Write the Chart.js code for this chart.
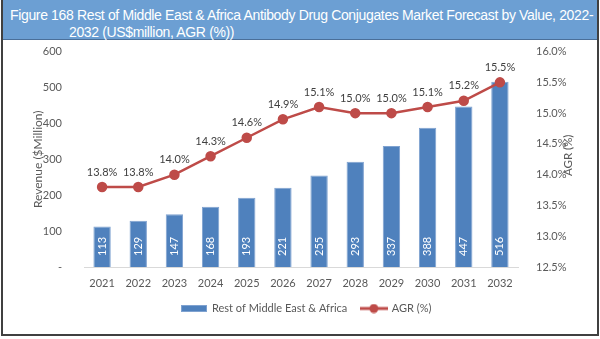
<!DOCTYPE html>
<html lang="en">
<head>
  <meta charset="UTF-8">
  <title>Antibody Drug Conjugates Market Forecast</title>
  <style>
    body {
      margin: 0;
      width: 600px;
      height: 339px;
      overflow: hidden;
      background: #fff;
      font-family: Lato, sans-serif;
    }
    #frame {
      position: absolute;
      left: 1px;
      top: 0;
      width: 594px;
      height: 334px;
      border: 2px solid #404040;
      border-top: none;
    }
    #header {
      position: absolute;
      left: 0;
      top: 0;
      width: 594px;
      height: 39px;
      background: #6c9fd3;
      border-bottom: 1px solid #4a6f99;
      color: #fff;
      font-family: "Liberation Sans", Arial, sans-serif;
      font-size: 14px;
      line-height: 17px;
      letter-spacing: -0.35px;
    }
    #header .l1 { position: absolute; left: 7px; top: 7px; white-space: nowrap; }
    #header .l2 { position: absolute; left: 66px; top: 24px; white-space: nowrap; }
    #chart-box {
      position: absolute;
      left: 0;
      top: 31px;
      width: 600px;
      height: 298px;
    }
  </style>
</head>
<body>
  <div id="frame">
    <div id="header">
      <span class="l1">Figure 168 Rest of Middle East &amp; Africa Antibody Drug Conjugates Market Forecast by Value, 2022-</span>
      <span class="l2">2032 (US$million, AGR (%))</span>
    </div>
  </div>
  <div id="chart-box"><canvas id="chart"></canvas></div>

  <script src="https://cdn.jsdelivr.net/npm/chart.js"></script>
  <script>
    const years = ['2021', '2022', '2023', '2024', '2025', '2026', '2027', '2028', '2029', '2030', '2031', '2032'];
    const revenue = [113, 129, 147, 168, 193, 221, 255, 293, 337, 388, 447, 516];
    const agr = [13.8, 13.8, 14.0, 14.3, 14.6, 14.9, 15.1, 15.0, 15.0, 15.1, 15.2, 15.5];

    const BAR_BLUE = '#4f81bd';
    const LINE_RED = '#be4b48';
    const TEXT_GREY = '#595959';
    const FONT = { family: 'Lato', size: 11 };

    // small legend icons: flat bar swatch and line-with-marker
    function barIcon() {
      const c = document.createElement('canvas');
      c.width = 26; c.height = 7;
      const g = c.getContext('2d');
      g.fillStyle = BAR_BLUE;
      g.fillRect(0, 0, 26, 7);
      g.strokeStyle = '#7fa2d0';
      g.strokeRect(0.5, 0.5, 25, 6);
      return c;
    }
    function lineIcon() {
      const c = document.createElement('canvas');
      c.width = 28; c.height = 10;
      const g = c.getContext('2d');
      g.strokeStyle = LINE_RED;
      g.lineWidth = 3;
      g.beginPath(); g.moveTo(0, 5); g.lineTo(28, 5); g.stroke();
      g.fillStyle = LINE_RED;
      g.beginPath(); g.arc(14, 5, 4.5, 0, Math.PI * 2); g.fill();
      return c;
    }
    const legendIcons = [barIcon(), lineIcon()];

    // value labels in/above the marks, plus the right axis title read bottom-up
    const valueLabels = {
      id: 'valueLabels',
      afterDatasetsDraw(chart) {
        const ctx = chart.ctx;
        ctx.save();
        ctx.font = '11px Lato, sans-serif';
        chart.getDatasetMeta(0).data.forEach((bar, i) => {
          ctx.save();
          ctx.translate(bar.x, bar.base - 11);
          ctx.rotate(-Math.PI / 2);
          ctx.fillStyle = '#ffffff';
          ctx.textAlign = 'left';
          ctx.textBaseline = 'middle';
          ctx.fillText(String(revenue[i]), 0, 0);
          ctx.restore();
        });
        ctx.fillStyle = '#404040';
        ctx.textAlign = 'center';
        ctx.textBaseline = 'middle';
        chart.getDatasetMeta(1).data.forEach((pt, i) => {
          ctx.fillText(agr[i].toFixed(1) + '%', pt.x, pt.y - 15);
        });

        const area = chart.chartArea;
        ctx.save();
        ctx.translate(568.5, (area.top + area.bottom) / 2 - 4);
        ctx.rotate(-Math.PI / 2);
        ctx.fillStyle = TEXT_GREY;
        ctx.font = '11.5px Lato, sans-serif';
        ctx.fillText('AGR (%)', 0, 0);
        ctx.restore();
        ctx.restore();
      }
    };

    new Chart(document.getElementById('chart'), {
      data: {
        labels: years,
        datasets: [
          {
            type: 'bar',
            label: 'Rest of Middle East & Africa',
            data: revenue,
            backgroundColor: BAR_BLUE,
            borderColor: '#7fa2d0',
            borderWidth: 1,
            barPercentage: 0.48,
            categoryPercentage: 1,
            yAxisID: 'y',
            order: 2
          },
          {
            type: 'line',
            label: 'AGR (%)',
            data: agr,
            borderColor: LINE_RED,
            backgroundColor: LINE_RED,
            borderWidth: 2.5,
            pointRadius: 4,
            pointHoverRadius: 4,
            tension: 0,
            yAxisID: 'y1',
            order: 1
          }
        ]
      },
      options: {
        responsive: true,
        maintainAspectRatio: false,
        animation: false,
        layout: { padding: { left: 39, right: 26, top: 4.5, bottom: 5 } },
        plugins: {
          tooltip: { enabled: false },
          legend: {
            position: 'bottom',
            labels: {
              color: TEXT_GREY,
              font: FONT,
              usePointStyle: true,
              pointStyleWidth: 25,
              padding: 14,
              sort: (a, b) => a.datasetIndex - b.datasetIndex,
              generateLabels(chart) {
                const items = Chart.defaults.plugins.legend.labels.generateLabels(chart);
                items.forEach(it => { it.pointStyle = legendIcons[it.datasetIndex]; });
                return items;
              }
            }
          }
        },
        scales: {
          x: {
            grid: { display: false, drawTicks: false },
            border: { display: true, color: '#d9d9d9' },
            ticks: { color: TEXT_GREY, font: { family: 'Lato', size: 11, lineHeight: 1 }, padding: 10.5 },
            afterFit(scale) { scale.height = 22; }
          },
          y: {
            position: 'left',
            min: 0,
            max: 600,
            grid: { display: false },
            border: { display: false },
            ticks: {
              stepSize: 100,
              padding: 14,
              color: TEXT_GREY,
              font: FONT,
              callback: v => (v === 0 ? '-' : v)
            },
            title: {
              display: true,
              text: 'Revenue ($Million)',
              color: TEXT_GREY,
              font: { family: 'Lato', size: 12 },
              padding: { top: -8, bottom: 4 }
            },
            afterFit(scale) { scale.width = 45; }
          },
          y1: {
            position: 'right',
            min: 12.5,
            max: 16,
            grid: { display: false },
            border: { display: false },
            ticks: {
              stepSize: 0.5,
              padding: 10,
              color: TEXT_GREY,
              font: FONT,
              callback: v => v.toFixed(1) + '%'
            },
            afterFit(scale) { scale.width = 56; }
          }
        }
      },
      plugins: [valueLabels]
    });
  </script>
</body>
</html>
